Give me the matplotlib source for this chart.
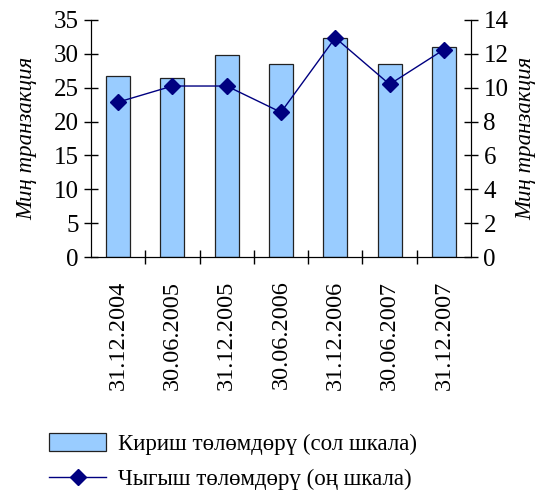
import numpy as np
import matplotlib.pyplot as plt
from matplotlib.ticker import FixedLocator

plt.rcParams['font.family'] = ['Liberation Serif', 'DejaVu Serif']

# данные
dates = ['31.12.2004', '30.06.2005', '31.12.2005', '30.06.2006',
         '31.12.2006', '30.06.2007', '31.12.2007']
kirish = [26.7, 26.4, 29.8, 28.5, 32.3, 28.5, 31.0]   # сол шкала
chygysh = [9.15, 10.1, 10.1, 8.55, 12.95, 10.2, 12.25]  # оң шкала

x = np.arange(len(dates))

fig = plt.figure(figsize=(5.38, 4.9), dpi=100)
ax = fig.add_axes([91/538, 1 - 257/490, 380/538, 237/490])

bars = ax.bar(x, kirish, width=0.44, color='#99CCFF', edgecolor='#222222', linewidth=0.9,
              label='Кириш төлөмдөрү (сол шкала)')
ax.set_xlim(-0.5, len(dates) - 0.5)
ax.set_ylim(0, 35)
ax.set_yticks(range(0, 36, 5))
ax.set_xticks(x)
ax.set_xticklabels(dates, rotation=90, fontsize=17.5)
ax.tick_params(axis='x', which='major', length=0, pad=17)
ax.xaxis.set_minor_locator(FixedLocator(x[:-1] + 0.5))
ax.tick_params(axis='x', which='minor', direction='inout', length=10, width=1)
ax.tick_params(axis='y', direction='inout', length=10, width=1, labelsize=18, pad=4)
ax.spines['top'].set_visible(False)
ax.set_ylabel('Миң транзакция', fontsize=16.5, style='italic', labelpad=12)

ax2 = ax.twinx()
line, = ax2.plot(x, chygysh, color='#000080', marker='D', markersize=8, linewidth=1,
                 label='Чыгыш төлөмдөрү (оң шкала)')
ax2.set_ylim(0, 14)
ax2.set_yticks(range(0, 15, 2))
ax2.tick_params(axis='y', direction='inout', length=10, width=1, labelsize=18, pad=4)
ax2.spines['top'].set_visible(False)
ax2.set_ylabel('Миң транзакция', fontsize=16.5, style='italic', labelpad=5)

fig.legend(handles=[bars, line], loc='upper left', bbox_to_anchor=(40/538, 1 - 424/490),
           frameon=False, fontsize=16.5, handlelength=2.5, handleheight=0.8,
           labelspacing=0.6, handletextpad=0.5, borderaxespad=0)

fig.savefig('out.png', dpi=100)
